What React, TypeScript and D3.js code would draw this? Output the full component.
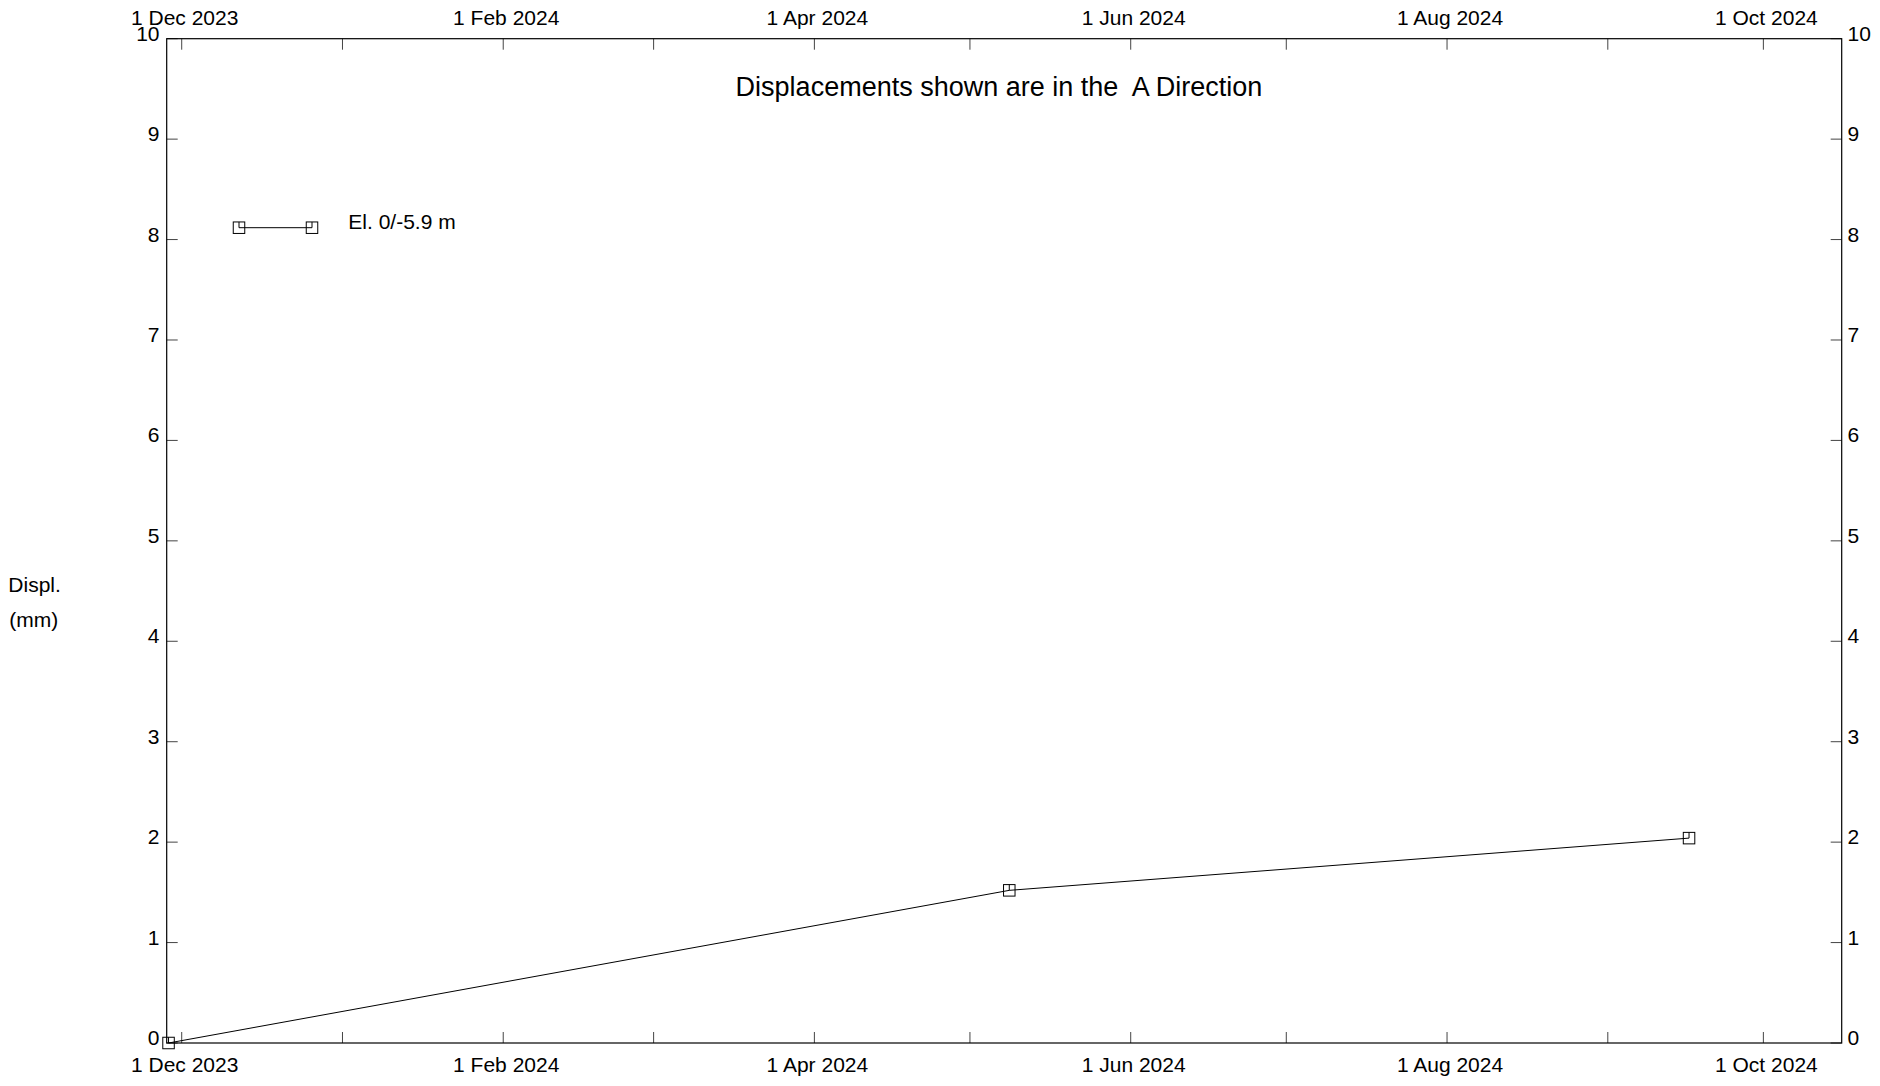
import React from "react";
import * as d3 from "d3";

const seriesName = "El. 0/-5.9 m";
const dates = ["2023-11-28T11:00:00", "2024-05-08T14:00:00", "2024-09-16T16:00:00"];
const values = [0, 1.52, 2.04];
const yTicks = [0, 1, 2, 3, 4, 5, 6, 7, 8, 9, 10];
const labelMonths = ["2023-12-01", "2024-02-01", "2024-04-01", "2024-06-01", "2024-08-01", "2024-10-01"];
const domainStart = "2023-11-28T02:30:00";
const domainEnd = "2024-10-16T02:30:00";
const title = "Displacements shown are in the  A Direction";

const W = 1880, H = 1086;
const L = 166.7, R = 1841.7, T = 38.7, B = 1043;
const FONT = "'Liberation Sans', Arial, sans-serif";

function Marker({ x, y }: { x: number; y: number }) {
  const s = 11.5;
  return (
    <g>
      <rect x={x - s / 2} y={y - s / 2} width={s} height={s} fill="none" stroke="#000" strokeWidth={1} />
      <line x1={x} x2={x} y1={y - s / 2} y2={y} stroke="#000" strokeWidth={1} />
    </g>
  );
}

export default function App() {
  const x = d3.scaleTime().domain([new Date(domainStart), new Date(domainEnd)]).range([L, R]);
  const y = d3.scaleLinear().domain([0, 10]).range([B, T]);
  const monthTicks = x.ticks(d3.timeMonth.every(1)!);
  const labelDates = labelMonths.map((d) => new Date(d + "T00:00:00"));
  const pts = dates.map((d, i) => [x(new Date(d)), y(values[i])] as [number, number]);
  const line = d3.line()(pts) || "";
  const fmt = d3.timeFormat("%-d %b %Y");
  const tickLen = 11;

  return (
    <svg width={W} height={H} style={{ position: "absolute", left: 0, top: 0, background: "#fff" }} fontFamily={FONT}>
      <rect x={0} y={0} width={W} height={H} fill="#fff" />
      {monthTicks.map((d, i) => (
        <g key={"mt" + i}>
          <line x1={x(d)} x2={x(d)} y1={B} y2={B - tickLen} stroke="#444" strokeWidth={1} />
          <line x1={x(d)} x2={x(d)} y1={T} y2={T + tickLen} stroke="#444" strokeWidth={1} />
        </g>
      ))}
      {labelDates.map((d, i) => (
        <g key={"ml" + i}>
          <text x={x(d) + 3} y={1072} fontSize={21} textAnchor="middle" fill="#000">{fmt(d)}</text>
          <text x={x(d) + 3} y={25} fontSize={21} textAnchor="middle" fill="#000">{fmt(d)}</text>
        </g>
      ))}
      {yTicks.map((v) => (
        <g key={"yt" + v}>
          <line x1={L} x2={L + tickLen} y1={y(v)} y2={y(v)} stroke="#444" strokeWidth={1} />
          <line x1={R} x2={R - tickLen} y1={y(v)} y2={y(v)} stroke="#444" strokeWidth={1} />
          <text x={159.5} y={y(v) + 2} fontSize={21} textAnchor="end" fill="#000">{v}</text>
          <text x={1847.5} y={y(v) + 2} fontSize={21} textAnchor="start" fill="#000">{v}</text>
        </g>
      ))}
      <rect x={L} y={T} width={R - L} height={B - T} fill="none" stroke="#000" strokeWidth={1.2} />
      <text x={999} y={96} fontSize={27} textAnchor="middle" fill="#000" style={{ whiteSpace: "pre" }} xmlSpace="preserve">{title}</text>
      <text x={8.3} y={592} fontSize={21} fill="#000">Displ.</text>
      <text x={9.3} y={627} fontSize={21} fill="#000">(mm)</text>
      <path d={line} fill="none" stroke="#000" strokeWidth={1} />
      {pts.map((p, i) => (
        <Marker key={"p" + i} x={p[0]} y={p[1]} />
      ))}
      <line x1={239} x2={312} y1={227.7} y2={227.7} stroke="#000" strokeWidth={1} />
      <Marker x={239} y={227.7} />
      <Marker x={312} y={227.7} />
      <text x={348.3} y={229} fontSize={21} fill="#000">{seriesName}</text>
    </svg>
  );
}
